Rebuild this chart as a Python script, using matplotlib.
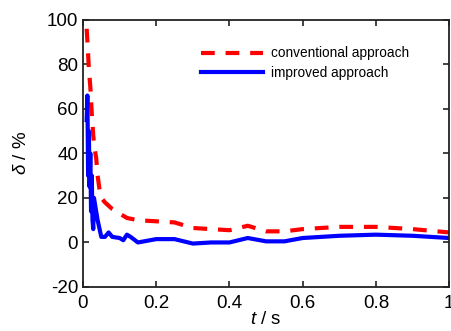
import matplotlib
matplotlib.use('Agg')
import matplotlib.pyplot as plt

plt.rcParams['font.family'] = ['Liberation Sans', 'DejaVu Sans']
plt.rcParams['mathtext.fontset'] = 'custom'
plt.rcParams['mathtext.rm'] = 'Liberation Sans'
plt.rcParams['mathtext.it'] = 'Liberation Sans:italic'
plt.rcParams['axes.unicode_minus'] = False

# conventional approach (red dashed)
t_conv = [0.01, 0.013, 0.016, 0.02, 0.024, 0.028, 0.032, 0.036, 0.04, 0.045, 0.05, 0.06,
          0.08, 0.1, 0.12, 0.15, 0.2, 0.25, 0.3, 0.35, 0.4, 0.45, 0.5, 0.55, 0.6,
          0.65, 0.7, 0.8, 0.9, 1.0]
d_conv = [96, 88, 78, 70, 58, 48, 42, 38, 30, 24, 20, 18,
          15, 13, 11, 10, 9.5, 9, 6.5, 6, 5.5, 7.5, 5, 5, 6,
          6.5, 7, 7, 6, 4.5]

# improved approach (blue solid)
t_imp = [0.01, 0.012, 0.014, 0.016, 0.018, 0.02, 0.022, 0.024, 0.026, 0.028, 0.03,
         0.035, 0.04, 0.05, 0.06, 0.07, 0.08, 0.1, 0.11, 0.12, 0.13, 0.15, 0.2,
         0.25, 0.3, 0.35, 0.4, 0.45, 0.5, 0.55, 0.6, 0.65, 0.7, 0.8, 0.9, 1.0]
d_imp = [55, 66, 30, 50, 25, 40, 14, 30, 10, 6, 20,
         15, 10, 2.5, 2.5, 4.5, 2.5, 2, 1, 3.5, 2.5, 0, 1.5,
         1.5, -0.5, 0, 0, 2, 0.5, 0.5, 2, 2.5, 3, 3.5, 3, 2]

xticks = [0, 0.2, 0.4, 0.6, 0.8, 1]
xticklabels = ['0', '0.2', '0.4', '0.6', '0.8', '1']
yticks = [-20, 0, 20, 40, 60, 80, 100]

fig = plt.figure(figsize=(4.51, 3.31), dpi=100)
ax = fig.add_axes([0.184, 0.133, 0.812, 0.807])

ax.plot(t_conv, d_conv, color='red', lw=3, dashes=(3.3, 2.6), label='conventional approach')
ax.plot(t_imp, d_imp, color='blue', lw=3, label='improved approach')

ax.set_xlim(0, 1)
ax.set_ylim(-20, 100)
ax.set_xticks(xticks)
ax.set_xticklabels(xticklabels)
ax.set_yticks(yticks)
ax.tick_params(direction='in', top=True, right=True, length=4, width=1.2,
               labelsize=13.5, colors='#222222', labelcolor='black')
ax.tick_params(axis='x', pad=6)
for sp in ax.spines.values():
    sp.set_linewidth(1.3)
    sp.set_color('#222222')

ax.set_xlabel(r'$t$ / s', fontsize=13.5, labelpad=-1)
ax.set_ylabel(r'$\delta$ / %', fontsize=13.5, labelpad=12)

ax.legend(loc='upper left', frameon=False, handlelength=4.55, fontsize=9.8,
          handletextpad=0.6, labelspacing=0.4, bbox_to_anchor=(0.289, 0.947))

fig.savefig('out.png', dpi=100)
